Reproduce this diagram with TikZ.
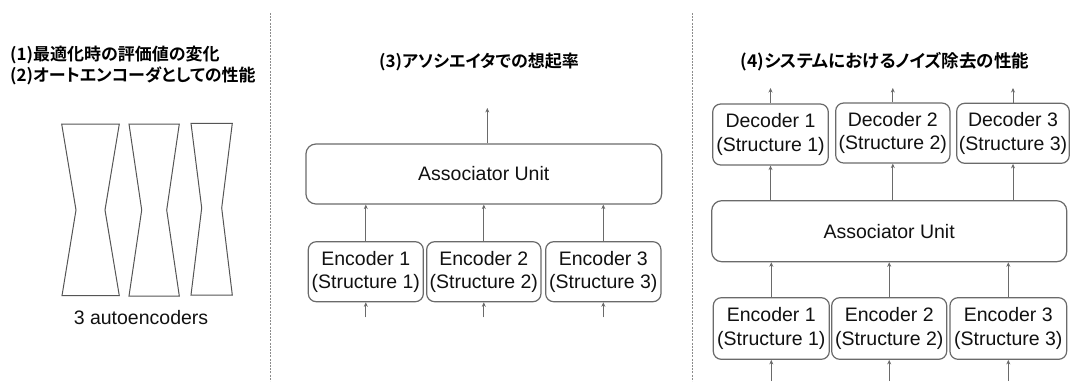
\documentclass[tikz,border=0pt]{standalone}
\usepackage{fontspec}
\setmainfont{Liberation Sans}
\newfontfamily\jpfont[RawFeature=+palt, UprightFont=* Bold]{Noto Sans CJK JP}
\usetikzlibrary{arrows.meta}

\definecolor{edge}{HTML}{6A6A6A}
\definecolor{ink}{HTML}{111111}
\definecolor{sep}{HTML}{8C8C8C}

\tikzset{
  unitbox/.style={draw=edge, line width=1.2pt, rounded corners=8pt, inner sep=0pt,
    align=center, text=ink, font=\fontsize{19.5}{23.5}\selectfont},
  flow/.style={draw=edge, line width=0.9pt, -{Stealth[length=4.5pt,width=4pt]}},
  hourglass/.style={draw=edge!80!black, line width=1pt, line join=miter},
  heading/.style={font=\jpfont\fontsize{17}{21}\selectfont, text=black, inner sep=0pt},
  separator/.style={draw=sep, line width=0.9pt, dash pattern=on 2pt off 1.2pt},
}

\begin{document}
\begin{tikzpicture}[x=1pt, y=-1pt]
\useasboundingbox (0,0) rectangle (1070,381);
\fill[white] (0,0) rectangle (1070,381);

% ---- panel separators
\draw[separator] (270,13) -- (270,381);
\draw[separator] (692.5,13) -- (692.5,381);

% ---- panel 1: three autoencoders
\node[heading, anchor=west] (h1) at (10,55) {(1)最適化時の評価値の変化};
\node[heading, anchor=west] (h2) at (10,76) {(2)オートエンコーダとしての性能};

\draw[hourglass] (61.7,124) -- (119.3,124) -- (105,210) -- (119.3,295.7)
  -- (62,295.7) -- (76,210) -- cycle;
\draw[hourglass] (129,124) -- (179.3,124) -- (166.7,210) -- (179.3,296)
  -- (129,296) -- (141.7,210) -- cycle;
\draw[hourglass] (191,123.3) -- (232.3,123.3) -- (221.7,208) -- (232.3,295)
  -- (191,295) -- (201.7,208) -- cycle;
\node[text=ink, font=\fontsize{19.5}{22}\selectfont] (aelabel) at (141,318) {3 autoencoders};

% ---- panel 3: recall rate of the associator
\node[heading] (h3) at (479,62) {(3)アソシエイタでの想起率};

\node[unitbox, minimum width=355.7pt, minimum height=60pt, rounded corners=10pt] (assocM) at (483.8,174) {Associator Unit};
\node[unitbox, minimum width=115pt, minimum height=60pt] (encM1) at (365.8,271.7) {Encoder 1\\(Structure 1)};
\node[unitbox, minimum width=114.3pt, minimum height=60pt] (encM2) at (483.8,271.7) {Encoder 2\\(Structure 2)};
\node[unitbox, minimum width=115.3pt, minimum height=60pt] (encM3) at (603.3,271.7) {Encoder 3\\(Structure 3)};

\coordinate (outM) at (487.3,108);
\draw[flow] (assocM.north -| outM) -- (outM);
\foreach \i in {1,2,3} {
  \coordinate (inM\i) at ([yshift=-15pt]encM\i.south);
  \draw[flow] (inM\i) -- (encM\i.south);
  \draw[flow] (encM\i.north) -- (encM\i.north |- assocM.south);
}

% ---- panel 4: noise removal of the whole system
\node[heading, font=\jpfont\fontsize{17.5}{21}\selectfont] (h4) at (885,62) {(4)システムにおけるノイズ除去の性能};

\node[unitbox, minimum width=115.6pt, minimum height=61pt] (decR1) at (770.5,134.5) {Decoder 1\\(Structure 1)};
\node[unitbox, minimum width=114.3pt, minimum height=60pt] (decR2) at (892.8,133) {Decoder 2\\(Structure 2)};
\node[unitbox, minimum width=112.6pt, minimum height=60pt] (decR3) at (1013,133.3) {Decoder 3\\(Structure 3)};

\node[unitbox, minimum width=355pt, minimum height=61pt, rounded corners=10pt] (assocR) at (889.2,231.2) {Associator Unit};

\node[unitbox, minimum width=116pt, minimum height=61.6pt] (encR1) at (771.3,328.5) {Encoder 1\\(Structure 1)};
\node[unitbox, minimum width=115pt, minimum height=61.6pt] (encR2) at (889.2,328.5) {Encoder 2\\(Structure 2)};
\node[unitbox, minimum width=116.7pt, minimum height=61.6pt] (encR3) at (1008.3,328.5) {Encoder 3\\(Structure 3)};

\foreach \i in {1,2,3} {
  \coordinate (outR\i) at (decR\i.north |- 0,88);
  \draw[flow] (decR\i.north) -- (outR\i);
  \draw[flow] (assocR.north -| decR\i.south) -- (decR\i.south);
  \draw[flow] (encR\i.north) -- (encR\i.north |- assocR.south);
  \coordinate (inR\i) at (encR\i.south |- 0,381);
  \draw[flow] (inR\i) -- (encR\i.south);
}
\end{tikzpicture}
\end{document}
